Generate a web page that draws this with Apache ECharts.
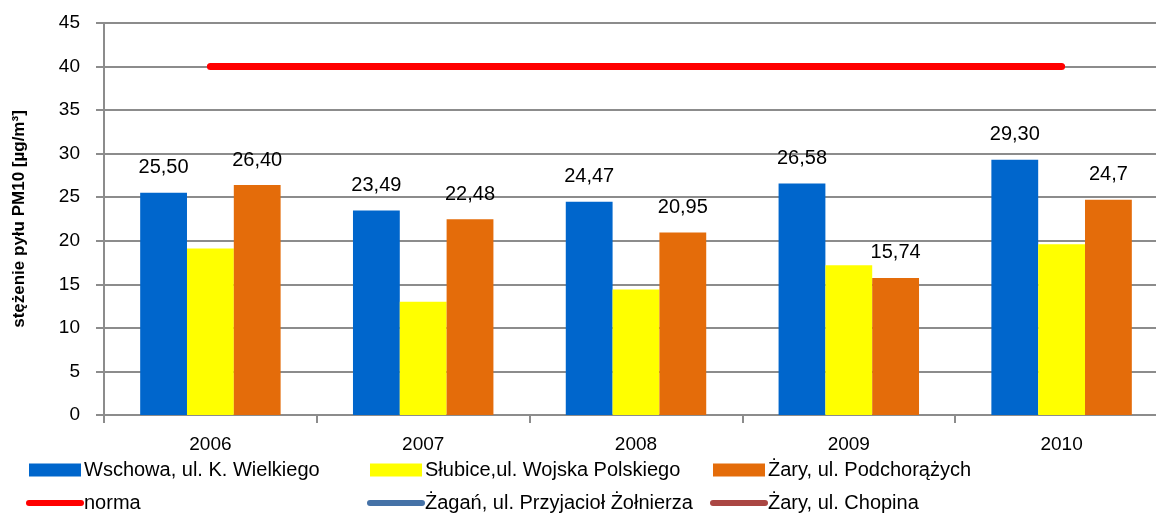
<!DOCTYPE html>
<html>
<head>
<meta charset="utf-8">
<script src="https://cdn.jsdelivr.net/npm/echarts@6/dist/echarts.min.js"></script>
<style>
  html, body { margin: 0; padding: 0; background: #fff; }
  #chart { width: 1156px; height: 515px; }
</style>
</head>
<body>
<div id="chart"></div>
<script>
// Data
const years = ['2006', '2007', '2008', '2009', '2010'];
const wschowa = [25.50, 23.49, 24.47, 26.58, 29.30];
const wschowaLabels = ['25,50', '23,49', '24,47', '26,58', '29,30'];
const slubice = [19.1, 13.0, 14.4, 17.2, 19.6];
const zaryPodch = [26.40, 22.48, 20.95, 15.74, 24.7];
const zaryPodchLabels = ['26,40', '22,48', '20,95', '15,74', '24,7'];
const norma = [40, 40, 40, 40, 40];

const FONT = '"Liberation Sans", Arial, sans-serif';

const chart = echarts.init(document.getElementById('chart'));

const barLabel = (texts) => ({
    show: true,
    position: 'top',
    distance: 15,
    fontFamily: FONT,
    fontSize: 20,
    color: '#000',
    formatter: (p) => texts[p.dataIndex]
});

// legend entries: bars get a plain rect, lines a thick rounded line with no marker
const barItem = (name) => ({ name: name, icon: 'rect' });
const lineItem = (name) => ({ name: name, itemStyle: { opacity: 0 } });

const legendBase = {
    orient: 'vertical',
    top: 460,
    padding: 0,
    itemWidth: 52,
    itemHeight: 13,
    itemGap: 13,
    lineStyle: { width: 6, cap: 'round' },
    textStyle: { fontFamily: FONT, fontSize: 20, lineHeight: 20, color: '#000', padding: [0, 0, 0, -2] }
};

const option = {
    animation: false,
    backgroundColor: '#fff',
    grid: {
        left: 104,
        top: 23,
        width: 1064,
        bottom: 100,
        outerBoundsMode: 'none'
    },
    legend: [
        Object.assign({}, legendBase, { left: 26, data: [barItem('Wschowa, ul. K. Wielkiego'), lineItem('norma')] }),
        Object.assign({}, legendBase, { left: 367, data: [barItem('Słubice,ul. Wojska Polskiego'), lineItem('Żagań, ul. Przyjacioł Żołnierza')] }),
        Object.assign({}, legendBase, { left: 710, data: [barItem('Żary, ul. Podchorążych'), lineItem('Żary, ul. Chopina')] })
    ],
    xAxis: {
        type: 'category',
        data: years,
        axisLine: { lineStyle: { color: '#8c8c8c', width: 2 } },
        axisTick: { show: true, length: 8, lineStyle: { color: '#8c8c8c', width: 2 } },
        axisLabel: { fontFamily: FONT, fontSize: 19, color: '#000', margin: 20 }
    },
    yAxis: {
        type: 'value',
        min: 0,
        max: 45,
        interval: 5,
        name: 'stężenie pyłu PM10 [µg/m³]',
        nameLocation: 'middle',
        nameGap: 76,
        nameTextStyle: { fontFamily: FONT, fontSize: 17, fontWeight: 'bold', color: '#000' },
        axisLine: { show: true, lineStyle: { color: '#8c8c8c', width: 2 } },
        axisTick: { show: true, length: 8, lineStyle: { color: '#8c8c8c', width: 2 } },
        axisLabel: { fontFamily: FONT, fontSize: 19, color: '#000', margin: 24 },
        splitLine: { lineStyle: { color: '#8c8c8c', width: 2 } }
    },
    series: [
        {
            name: 'Wschowa, ul. K. Wielkiego',
            type: 'bar',
            data: wschowa,
            barGap: '0%',
            barCategoryGap: '34%',
            itemStyle: { color: '#0066CC' },
            label: barLabel(wschowaLabels)
        },
        {
            name: 'Słubice,ul. Wojska Polskiego',
            type: 'bar',
            data: slubice,
            itemStyle: { color: '#FFFF00' }
        },
        {
            name: 'Żary, ul. Podchorążych',
            type: 'bar',
            data: zaryPodch,
            itemStyle: { color: '#E46C0A' },
            label: barLabel(zaryPodchLabels)
        },
        {
            name: 'norma',
            type: 'line',
            data: norma,
            symbol: 'none',
            itemStyle: { color: '#FF0000' },
            lineStyle: { color: '#FF0000', width: 7, cap: 'round' },
            z: 5
        },
        {
            name: 'Żagań, ul. Przyjacioł Żołnierza',
            type: 'line',
            data: [],
            symbol: 'none',
            itemStyle: { color: '#4572A7' },
            lineStyle: { color: '#4572A7', width: 7, cap: 'round' }
        },
        {
            name: 'Żary, ul. Chopina',
            type: 'line',
            data: [],
            symbol: 'none',
            itemStyle: { color: '#AA4643' },
            lineStyle: { color: '#AA4643', width: 7, cap: 'round' }
        }
    ]
};

chart.setOption(option);
</script>
</body>
</html>
